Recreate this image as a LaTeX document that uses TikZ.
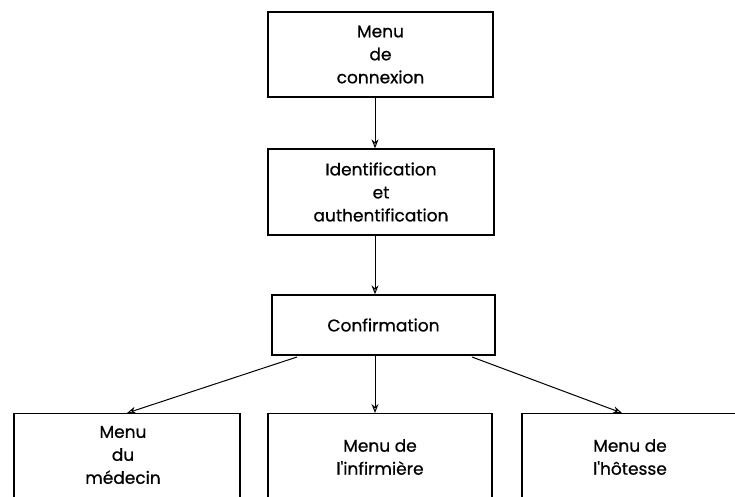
\documentclass[tikz,border=0pt]{standalone}
\usepackage{fontspec}
\setmainfont{Poppins}
\newfontfamily\boxfont{Poppins}[FakeBold=0.7]
\usetikzlibrary{arrows.meta}
\begin{document}
\begin{tikzpicture}[x=1pt,y=-1pt,
  label/.style={align=center,font=\boxfont\fontsize{17}{23}\selectfont,inner sep=0pt},
  box/.style={draw,line width=1.3pt,label},
  link/.style={line width=1pt,-{Stealth[length=9pt,width=7pt,open]}}]
\useasboundingbox (0,0) rectangle (735,496);
\begin{scope}
\clip (0,0) rectangle (735,496);
% upper chain
\node[box,minimum width=225pt,minimum height=85pt] (menu) at (380.5,54.5) {Menu\\de\\connexion};
\node[box,minimum width=226pt,minimum height=86pt] (ident) at (381,192) {Identification\\et\\authentification};
\node[box,minimum width=223pt,minimum height=60pt] (conf) at (383.5,325) {Confirmation};
% lower row, boxes run past the lower edge
\node[box,minimum width=226pt,minimum height=110pt,anchor=north] (med) at (127,413) {};
\node[box,minimum width=224pt,minimum height=110pt,anchor=north] (inf) at (380,413) {};
\node[box,minimum width=226pt,minimum height=110pt,anchor=north] (hot) at (635,413) {};
\end{scope}
\node[label] (medt) at (123,455) {Menu\\du\\médecin};
\node[label] (inft) at (380,457) {Menu de\\l'infirmière};
\node[label] (hott) at (630,457) {Menu de\\l'hôtesse};
% connectors
\draw[link] (menu.south -| 375,0) -- (ident.north -| 375,0);
\draw[link] (ident.south -| 375,0) -- (conf.north -| 375,0);
\coordinate (cl) at (297,357);
\coordinate (cr) at (472,357);
\draw[link] (cl) -- (med.north -| 127,0);
\draw[link] (conf.south -| 375,0) -- (inf.north -| 375,0);
\draw[link] (cr) -- (hot.north -| 622,0);
\end{tikzpicture}
\end{document}
